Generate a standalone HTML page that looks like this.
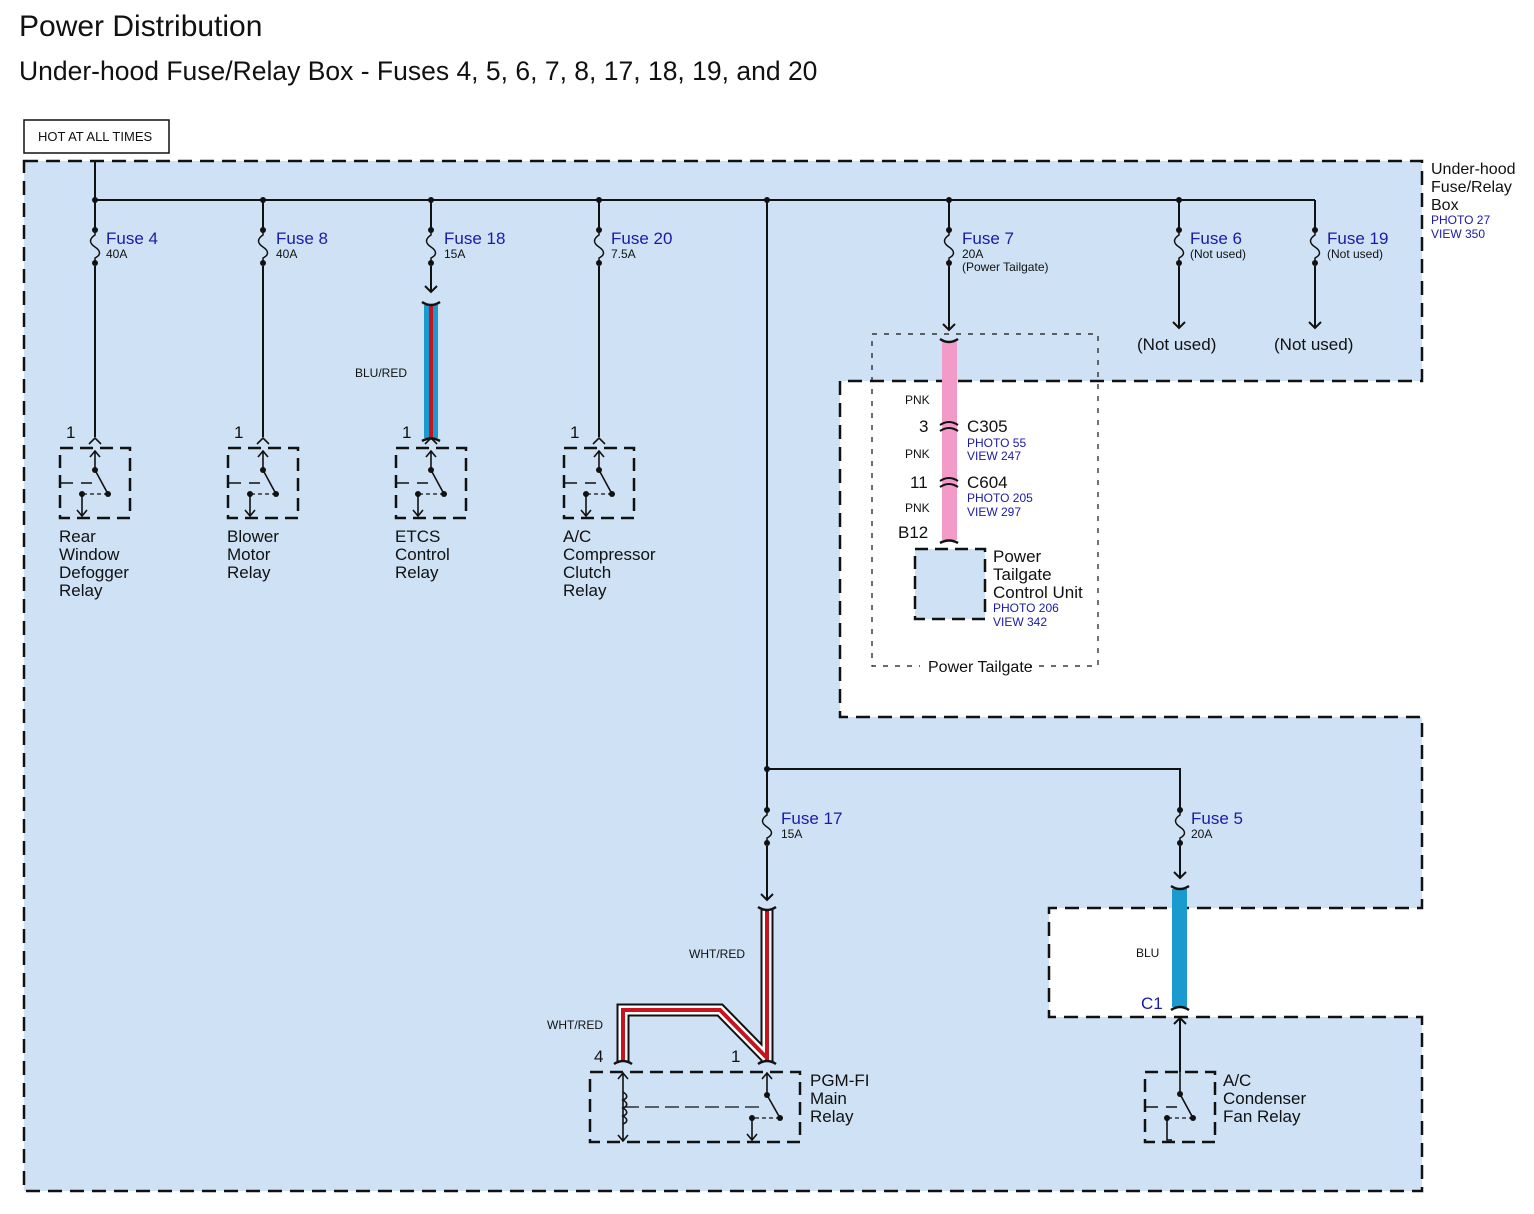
<!DOCTYPE html>
<html><head><meta charset="utf-8"><style>
html,body{margin:0;padding:0;background:#fff}
svg{display:block}
text{font-family:"Liberation Sans",Arial,sans-serif;fill:#111}
.b{fill:#1a1aa8}
</style></head><body>
<svg width="1534" height="1214" viewBox="0 0 1534 1214" xmlns="http://www.w3.org/2000/svg">
<defs>
<g id="relay">
  <rect x="-35" y="0" width="70" height="70" fill="none" stroke="#111" stroke-width="2.5" stroke-dasharray="13,7"/>
  <path d="M-6,-4 L0,-10 L6,-4" fill="none" stroke="#111" stroke-width="1.6"/>
  <path d="M0,22 V3 M-5,9 L0,3 L5,9" fill="none" stroke="#111" stroke-width="1.6"/>
  <path d="M0,22 L13,46" stroke="#111" stroke-width="1.6"/>
  <path d="M13,46 H-13" stroke="#111" stroke-width="1.2" stroke-dasharray="4,3"/>
  <path d="M-13,46 V68 M-18,62 L-13,68 L-8,62" fill="none" stroke="#111" stroke-width="1.6"/>
  <path d="M-35,35 H-22 M-14,35 H-3" stroke="#111" stroke-width="1.4"/>
  <circle cx="0" cy="22" r="3" fill="#111"/><circle cx="13" cy="46" r="3" fill="#111"/><circle cx="-13" cy="46" r="3" fill="#111"/>
</g>
<g id="fuse">
  <circle cx="0" cy="0" r="3" fill="#111"/><circle cx="0" cy="33" r="3" fill="#111"/>
  <path d="M0,0 V5 C-6,9 -6,13 0,17 C6,21 6,25 0,28 V33" fill="none" stroke="#111" stroke-width="1.5"/>
</g>
</defs>

<text x="19" y="36" font-size="30">Power Distribution</text>
<text x="19" y="80" font-size="26.5">Under-hood Fuse/Relay Box - Fuses 4, 5, 6, 7, 8, 17, 18, 19, and 20</text>
<rect x="24" y="120" width="145" height="33" fill="#fff" stroke="#111" stroke-width="1.5"/>
<text x="38" y="141" font-size="13">HOT AT ALL TIMES</text>

<path d="M24,161 H1422 V381 H840 V717 H1422 V908 H1049 V1017 H1422 V1191 H24 Z" fill="#cfe2f5" stroke="#111" stroke-width="2.5" stroke-dasharray="14,8"/>
<text x="1431" y="174" font-size="16">Under-hood</text>
<text x="1431" y="192" font-size="16">Fuse/Relay</text>
<text x="1431" y="210" font-size="16">Box</text>
<text x="1431" y="224" font-size="12" class="b">PHOTO 27</text>
<text x="1431" y="238" font-size="12" class="b">VIEW 350</text>

<rect x="872" y="334" width="226" height="332" fill="none" stroke="#111" stroke-width="1.2" stroke-dasharray="5,7"/>
<rect x="920" y="656" width="110" height="16" fill="#fff"/>
<text x="928" y="672" font-size="16">Power Tailgate</text>

<g stroke="#111" stroke-width="2" fill="none">
<path d="M95,161 V437"/>
<path d="M95,200 H1315"/>
<path d="M263,200 V437"/>
<path d="M431,200 V292 M425,286 L431,292 L437,286"/>
<path d="M599,200 V437"/>
<path d="M767,200 V900 M761,894 L767,900 L773,894"/>
<path d="M949,200 V330 M943,324 L949,330 L955,324"/>
<path d="M1179,200 V328 M1173,322 L1179,328 L1185,322"/>
<path d="M1315,200 V328 M1309,322 L1315,328 L1321,322"/>
<path d="M767,769 H1180 V878 M1174,872 L1180,878 L1186,872"/>
<path d="M1180,1017 V1072 M1174,1024 L1180,1018 L1186,1024"/>
</g>
<g fill="#111">
<circle cx="95" cy="200" r="3"/><circle cx="263" cy="200" r="3"/><circle cx="431" cy="200" r="3"/><circle cx="599" cy="200" r="3"/>
<circle cx="767" cy="200" r="3"/><circle cx="949" cy="200" r="3"/><circle cx="1179" cy="200" r="3"/><circle cx="767" cy="769" r="3"/>
</g>

<g>
<rect x="88" y="228" width="14" height="38" fill="#cfe2f5"/><use href="#fuse" x="95" y="230"/>
<rect x="256" y="228" width="14" height="38" fill="#cfe2f5"/><use href="#fuse" x="263" y="230"/>
<rect x="424" y="228" width="14" height="38" fill="#cfe2f5"/><use href="#fuse" x="431" y="230"/>
<rect x="592" y="228" width="14" height="38" fill="#cfe2f5"/><use href="#fuse" x="599" y="230"/>
<rect x="942" y="228" width="14" height="38" fill="#cfe2f5"/><use href="#fuse" x="949" y="230"/>
<rect x="1172" y="228" width="14" height="38" fill="#cfe2f5"/><use href="#fuse" x="1179" y="230"/>
<rect x="1308" y="228" width="14" height="38" fill="#cfe2f5"/><use href="#fuse" x="1315" y="230"/>
<rect x="760" y="808" width="14" height="38" fill="#cfe2f5"/><use href="#fuse" x="767" y="810"/>
<rect x="1173" y="808" width="14" height="38" fill="#cfe2f5"/><use href="#fuse" x="1180" y="810"/>
</g>
<g font-size="17">
<text x="106" y="244" class="b">Fuse 4</text><text x="106" y="258" font-size="12">40A</text>
<text x="276" y="244" class="b">Fuse 8</text><text x="276" y="258" font-size="12">40A</text>
<text x="444" y="244" class="b">Fuse 18</text><text x="444" y="258" font-size="12">15A</text>
<text x="611" y="244" class="b">Fuse 20</text><text x="611" y="258" font-size="12">7.5A</text>
<text x="962" y="244" class="b">Fuse 7</text><text x="962" y="258" font-size="12">20A</text><text x="962" y="271" font-size="12">(Power Tailgate)</text>
<text x="1190" y="244" class="b">Fuse 6</text><text x="1190" y="258" font-size="12">(Not used)</text>
<text x="1327" y="244" class="b">Fuse 19</text><text x="1327" y="258" font-size="12">(Not used)</text>
<text x="781" y="824" class="b">Fuse 17</text><text x="781" y="838" font-size="12">15A</text>
<text x="1191" y="824" class="b">Fuse 5</text><text x="1191" y="838" font-size="12">20A</text>
<text x="1137" y="350">(Not used)</text>
<text x="1274" y="350">(Not used)</text>
</g>

<use href="#relay" x="95" y="448"/>
<use href="#relay" x="263" y="448"/>
<use href="#relay" x="431" y="448"/>
<use href="#relay" x="599" y="448"/>
<g font-size="17">
<text x="66" y="438">1</text><text x="234" y="438">1</text><text x="402" y="438">1</text><text x="570" y="438">1</text>
<text x="59" y="542">Rear</text><text x="59" y="560">Window</text><text x="59" y="578">Defogger</text><text x="59" y="596">Relay</text>
<text x="227" y="542">Blower</text><text x="227" y="560">Motor</text><text x="227" y="578">Relay</text>
<text x="395" y="542">ETCS</text><text x="395" y="560">Control</text><text x="395" y="578">Relay</text>
<text x="563" y="542">A/C</text><text x="563" y="560">Compressor</text><text x="563" y="578">Clutch</text><text x="563" y="596">Relay</text>
</g>

<rect x="424" y="305" width="14" height="133" fill="#1a9bd0"/>
<rect x="429" y="305" width="4" height="133" fill="#c8141e"/>
<path d="M422,302 Q431,308 440,302 M422,441 Q431,436 440,441" fill="none" stroke="#111" stroke-width="2.5"/>
<text x="355" y="377" font-size="12">BLU/RED</text>

<rect x="942" y="342" width="15" height="198" fill="#f29bc8"/>
<path d="M940,339 Q949,345 958,339" fill="none" stroke="#111" stroke-width="2.5"/>
<path d="M940,543 Q949,538 958,543" fill="none" stroke="#111" stroke-width="2.5"/>
<path d="M940,425 Q949,419 958,425 M940,431 Q949,425 958,431" fill="none" stroke="#111" stroke-width="2"/>
<path d="M940,481 Q949,475 958,481 M940,487 Q949,481 958,487" fill="none" stroke="#111" stroke-width="2"/>
<g font-size="12"><text x="905" y="404">PNK</text><text x="905" y="458">PNK</text><text x="905" y="512">PNK</text></g>
<text x="919" y="432" font-size="17">3</text>
<text x="967" y="432" font-size="17">C305</text>
<text x="967" y="447" font-size="12" class="b">PHOTO 55</text><text x="967" y="460" font-size="12" class="b">VIEW 247</text>
<text x="910" y="488" font-size="17">11</text>
<text x="967" y="488" font-size="17">C604</text>
<text x="967" y="502" font-size="12" class="b">PHOTO 205</text><text x="967" y="516" font-size="12" class="b">VIEW 297</text>
<text x="898" y="538" font-size="17">B12</text>
<rect x="915" y="549" width="70" height="70" fill="#cfe2f5" stroke="#111" stroke-width="2.5" stroke-dasharray="13,7"/>
<g font-size="17"><text x="993" y="562">Power</text><text x="993" y="580">Tailgate</text><text x="993" y="598">Control Unit</text></g>
<text x="993" y="612" font-size="12" class="b">PHOTO 206</text><text x="993" y="626" font-size="12" class="b">VIEW 342</text>

<path d="M623,1062 V1010 H720 L767,1058 M767,910 V1062" fill="none" stroke="#111" stroke-width="13" stroke-linejoin="miter"/>
<path d="M623,1062 V1010 H720 L767,1058 M767,910 V1062" fill="none" stroke="#fff" stroke-width="9"/>
<path d="M623,1062 V1010 H720 L767,1058 M767,910 V1062" fill="none" stroke="#c8141e" stroke-width="4"/>
<path d="M758,907 Q767,913 776,907" fill="none" stroke="#111" stroke-width="2.5"/>
<path d="M614,1064 Q623,1058 632,1064 M758,1064 Q767,1058 776,1064" fill="none" stroke="#111" stroke-width="2.5"/>
<text x="689" y="958" font-size="12">WHT/RED</text>
<text x="547" y="1029" font-size="12">WHT/RED</text>
<text x="594" y="1062" font-size="17">4</text>
<text x="731" y="1062" font-size="17">1</text>

<rect x="590" y="1072" width="210" height="70" fill="none" stroke="#111" stroke-width="2.5" stroke-dasharray="13,7"/>
<g fill="none" stroke="#111" stroke-width="1.6">
<path d="M623,1073 V1141 M618,1079 L623,1073 L628,1079 M618,1135 L623,1141 L628,1135"/>
<path d="M623,1092 c5,3 5,6 0,8 c5,3 5,6 0,8 c5,3 5,6 0,8 c5,3 5,6 0,8"/>
<path d="M767,1073 V1095 M762,1079 L767,1073 L772,1079"/>
<path d="M767,1095 L780,1118"/>
<path d="M752,1118 V1140 M747,1134 L752,1140 L757,1134"/>
</g>
<path d="M625,1107 H764" stroke="#111" stroke-width="1.3" stroke-dasharray="14,6"/>
<path d="M780,1118 H752" stroke="#111" stroke-width="1.2" stroke-dasharray="4,3"/>
<g fill="#111"><circle cx="767" cy="1095" r="3"/><circle cx="780" cy="1118" r="3"/><circle cx="752" cy="1118" r="3"/></g>
<g font-size="17"><text x="810" y="1086">PGM-FI</text><text x="810" y="1104">Main</text><text x="810" y="1122">Relay</text></g>

<rect x="1172" y="889" width="15" height="118" fill="#1a9bd0"/>
<path d="M1171,886 Q1180,892 1189,886 M1171,1010 Q1180,1004 1189,1010" fill="none" stroke="#111" stroke-width="2.5"/>
<text x="1136" y="957" font-size="12">BLU</text>
<text x="1141" y="1009" font-size="17" class="b">C1</text>

<g>
<rect x="1145" y="1072" width="70" height="70" fill="none" stroke="#111" stroke-width="2.5" stroke-dasharray="13,7"/>
<path d="M1180,1072 V1094 L1193,1118" fill="none" stroke="#111" stroke-width="1.6"/>
<path d="M1193,1118 H1167" stroke="#111" stroke-width="1.2" stroke-dasharray="4,3"/>
<path d="M1167,1118 V1140 H1172" fill="none" stroke="#111" stroke-width="1.6"/>
<path d="M1145,1107 H1158 M1166,1107 H1177" stroke="#111" stroke-width="1.4"/>
<g fill="#111"><circle cx="1180" cy="1094" r="3"/><circle cx="1193" cy="1118" r="3"/><circle cx="1167" cy="1118" r="3"/></g>
</g>
<g font-size="17"><text x="1223" y="1086">A/C</text><text x="1223" y="1104">Condenser</text><text x="1223" y="1122">Fan Relay</text></g>
</svg>
</body></html>
